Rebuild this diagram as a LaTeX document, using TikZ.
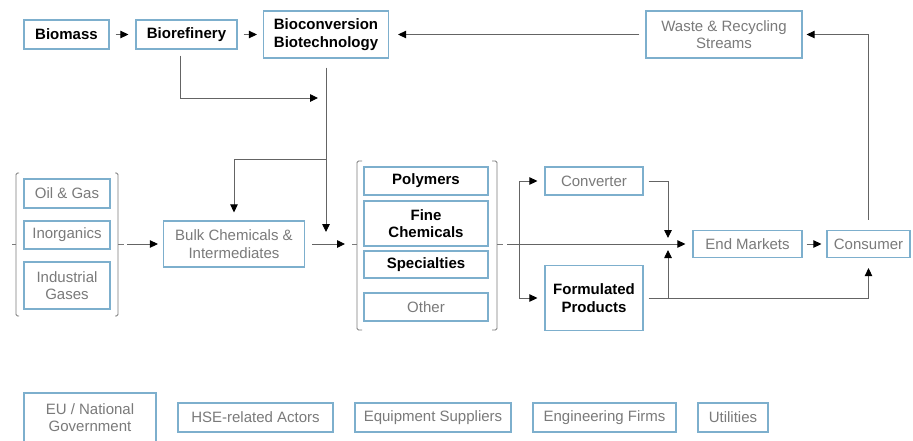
\documentclass[tikz,border=0pt]{standalone}
\usepackage{fontspec}
\setmainfont{Liberation Sans}
\usetikzlibrary{arrows.meta}
\definecolor{boxblue}{RGB}{125,175,205}
\definecolor{txtgray}{RGB}{122,122,122}
\definecolor{linegray}{RGB}{100,100,100}
\begin{document}
\begin{tikzpicture}[x=1pt,y=-1pt,
  box/.style={draw=boxblue, line width=1.2pt, fill=white, inner sep=0pt, align=center, font=\fontsize{15}{17.5}\selectfont},
  gbox/.style={box, text=txtgray},
  bbox/.style={box, text=black, font=\fontsize{15}{17.5}\selectfont\bfseries},
  arr/.style={draw=linegray, line width=0.9pt, -{Triangle[length=8pt,width=7.5pt,color=black]}},
  ln/.style={draw=linegray, line width=0.9pt},
  brk/.style={draw=txtgray, line width=0.8pt, rounded corners=1.5pt}
]
\useasboundingbox (0,0) rectangle (913,440);

% top row
\node[bbox, minimum width=85pt, minimum height=29pt] (bio) at (66.5,34.5) {Biomass};
\node[bbox, minimum width=101pt, minimum height=29pt] (biore) at (186.5,34.5) {Biorefinery};
\node[bbox, minimum width=125pt, minimum height=47pt] (bioconv) at (326,34.5) {Bioconversion\\Biotechnology};
\node[gbox, minimum width=156pt, minimum height=47pt] (waste) at (724,34.5) {Waste \& Recycling\\Streams};

% left group
\node[gbox, minimum width=86pt, minimum height=29pt] (oil) at (67,193.5) {Oil \& Gas};
\node[gbox, minimum width=86pt, minimum height=28pt] (inorg) at (67,235) {Inorganics};
\node[gbox, minimum width=86pt, minimum height=47pt] (indgas) at (67,285.5) {Industrial\\Gases};
\draw[brk] (19,173) -- (16,173) -- (16,316) -- (19,316);
\draw[brk] (12,244) -- (16,244);
\draw[brk] (115,173) -- (118,173) -- (118,316) -- (115,316);
\draw[brk] (118,244) -- (124,244);
\coordinate (gLout) at (124,244);

\node[gbox, minimum width=141pt, minimum height=46pt] (bulk) at (234,244) {Bulk Chemicals \&\\Intermediates};

% middle group
\node[bbox, minimum width=124pt, minimum height=28pt] (poly) at (426,181) {Polymers};
\node[bbox, minimum width=124pt, minimum height=45pt] (fine) at (426,223.5) {Fine\\Chemicals};
\node[bbox, minimum width=124pt, minimum height=27pt] (spec) at (426,264.5) {Specialties};
\node[gbox, minimum width=124pt, minimum height=28pt] (other) at (426,307) {Other};
\draw[brk] (362,161) -- (357,161) -- (357,330) -- (362,330);
\draw[brk] (352,244) -- (357,244);
\draw[brk] (492,161) -- (497,161) -- (497,330) -- (492,330);
\draw[brk] (497,244) -- (503,244);
\coordinate (gMin) at (352,244);
\coordinate (gMout) at (503,244);

% right part
\node[gbox, minimum width=98pt, minimum height=28pt] (conv) at (594,181) {Converter};
\node[bbox, minimum width=98pt, minimum height=65pt] (form) at (594,298) {Formulated\\Products};
\node[gbox, minimum width=109pt, minimum height=27pt] (endm) at (747.5,244) {End Markets};
\node[gbox, minimum width=83pt, minimum height=27pt] (cons) at (868.5,244) {Consumer};

% bottom row
\node[gbox, minimum width=132pt, minimum height=49pt] (eu) at (90,417.5) {EU / National\\Government};
\node[gbox, minimum width=155pt, minimum height=29pt] (hse) at (255.5,417.5) {HSE-related Actors};
\node[gbox, minimum width=156pt, minimum height=29pt] (equip) at (433,417.5) {Equipment Suppliers};
\node[gbox, minimum width=143pt, minimum height=29pt] (eng) at (604.5,417.5) {Engineering Firms};
\node[gbox, minimum width=70pt, minimum height=29pt] (util) at (733,417.5) {Utilities};

% connectors
\draw[arr, shorten <=6pt, shorten >=7pt] (bio.east) -- (biore.west);
\draw[arr, shorten <=6pt, shorten >=6pt] (biore.east) -- (bioconv.west);
\draw[arr, shorten <=6pt, shorten >=9pt] (waste.west) -- (bioconv.east);
\draw[arr, shorten <=10pt, shorten >=4pt] (cons.north) |- (waste.east);

\coordinate (j1) at (318,98);
\draw[arr, shorten <=6pt] ([xshift=-6.5pt]biore.south) |- (j1);
\coordinate (j2) at (326,232);
\draw[arr, shorten <=9pt] (bioconv.south) -- (j2);
\coordinate (j3) at (326,159);
\draw[arr, shorten >=8pt] (j3) -| (bulk.north);

\draw[arr, shorten <=3pt, shorten >=5pt] (gLout) -- (bulk.west);
\draw[arr, shorten <=7pt, shorten >=7pt] (bulk.east) -- (gMin);
\draw[arr, shorten <=4pt, shorten >=7pt] (gMout) -- (endm.west);

\coordinate (s1) at (519,181);
\coordinate (s2) at (519,298);
\draw[ln] (s1) -- (s2);
\draw[arr, shorten >=7pt] (s1) -- (conv.west);
\draw[arr, shorten >=7pt] (s2) -- (form.west);

\coordinate (m1) at (668,238);
\draw[arr, shorten <=5pt] (conv.east) -| (m1);
\draw[arr, shorten <=5pt, shorten >=10pt] (form.east) -| (cons.south);
\coordinate (m2) at (668,298);
\coordinate (m3) at (668,250);
\draw[arr] (m2) -- (m3);
\draw[arr, shorten <=4pt, shorten >=5pt] (endm.east) -- (cons.west);
\end{tikzpicture}
\end{document}
